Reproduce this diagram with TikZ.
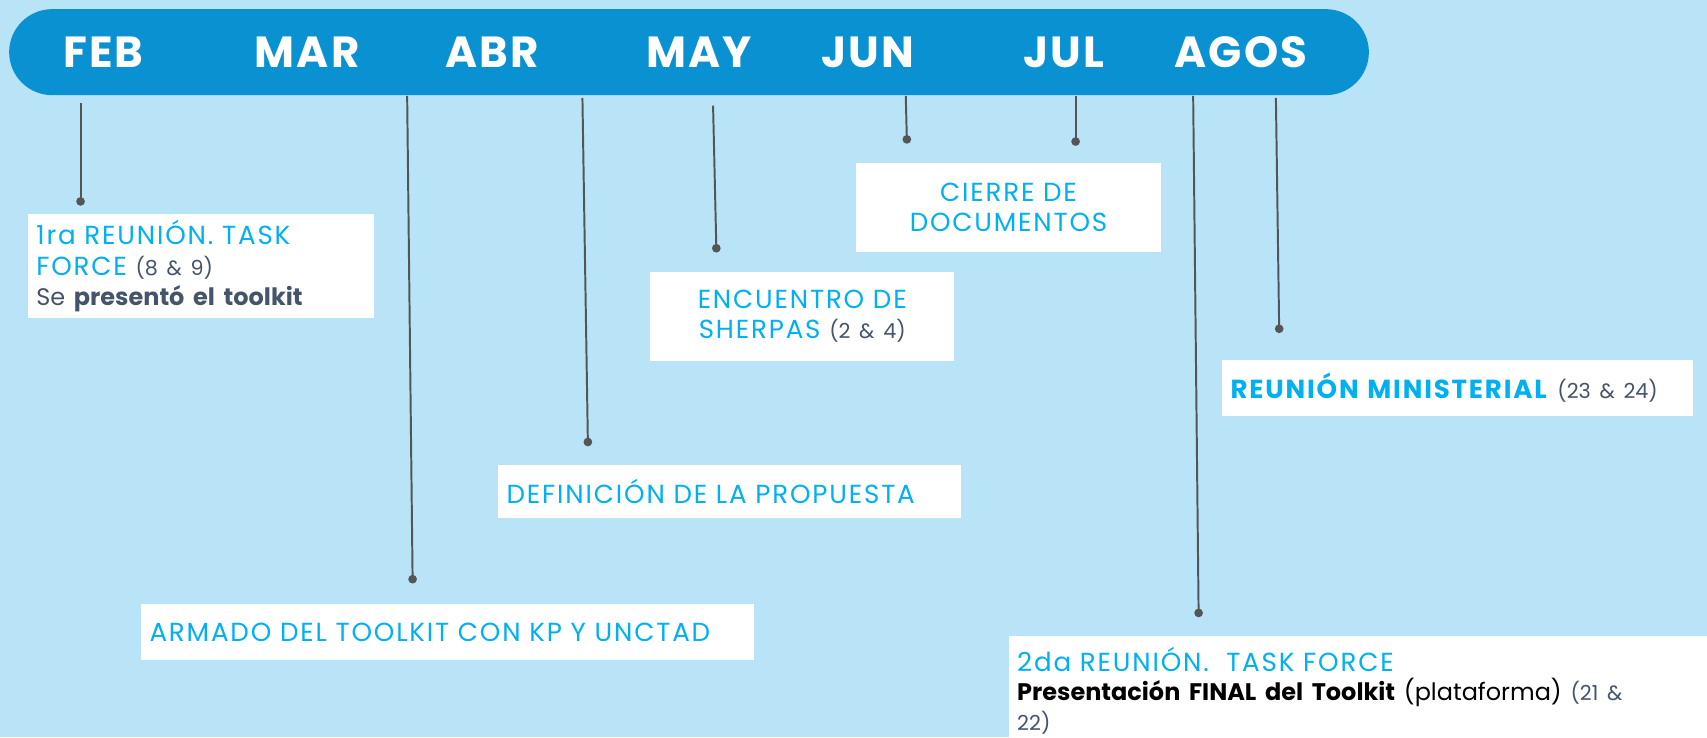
\documentclass[tikz,border=0pt]{standalone}
\usepackage{fontspec}
\setmainfont{Poppins}
\usepackage{tikz}
\usetikzlibrary{backgrounds,calc}
\definecolor{fondo}{HTML}{B9E4F7}
\definecolor{barraazul}{HTML}{0A91D2}
\definecolor{celeste}{HTML}{00B0F0}
\definecolor{gris}{HTML}{555555}
\definecolor{pizarra}{HTML}{44546A}
\tikzset{
  mes/.style={text=white, font=\fontsize{20}{22}\selectfont\bfseries\addfontfeature{LetterSpace=5}},
  hito/.style={fill=white, anchor=north west, inner xsep=4pt, inner ysep=3pt,
    font=\fontsize{12}{14}\selectfont\addfontfeature{LetterSpace=7}, text=celeste},
  guia/.style={draw=gris, line width=0.9pt}
}
\newcommand{\dias}[1]{{\color{pizarra}\fontsize{9.5}{14}\selectfont\addfontfeature{LetterSpace=0}#1}}
\newcommand{\texto}[1]{{\fontsize{11}{14}\selectfont\addfontfeature{LetterSpace=0}#1}}
\begin{document}
\begin{tikzpicture}[x=0.5pt,y=-0.5pt]
\useasboundingbox (0,0) rectangle (1568,677);
\fill[fondo] (0,0) rectangle (1568,677);
\node[fill=barraazul, rounded corners=19.75pt, anchor=north west, minimum width=624.5pt,
  minimum height=39.5pt, inner sep=0pt] (barra) at (8,8) {};
\foreach \m/\x in {FEB/95,MAR/282,ABR/452,MAY/642,JUN/797,JUL/977,AGOS/1140}
  \node[mes] (\m) at (\x,48) {\m};

\node[hito, minimum width=159pt, minimum height=47pt, text width=151pt, align=left] (h1) at (25,196)
  {1ra REUNIÓN. TASK\\FORCE \dias{(8 \& 9)}\\\texto{\color{pizarra}Se \textbf{presentó el toolkit}}};
\node[hito, minimum width=281.5pt, minimum height=26pt, text width=273.5pt, align=left] (h2) at (129,554)
  {ARMADO DEL TOOLKIT CON KP Y UNCTAD};
\node[hito, minimum width=212.5pt, minimum height=24pt, text width=204.5pt, align=left] (h3) at (457,427)
  {DEFINICIÓN DE LA PROPUESTA};
\node[hito, minimum width=139.5pt, minimum height=41pt, text width=131.5pt, align=center] (h4) at (597,249)
  {ENCUENTRO DE\\SHERPAS \dias{(2 \& 4)}};
\node[hito, minimum width=140pt, minimum height=41pt, text width=132pt, align=center] (h5) at (786,149)
  {CIERRE DE\\DOCUMENTOS};
\node[hito, minimum width=321pt, text width=313pt, inner ysep=5pt, align=left,
  font=\fontsize{12}{13.5}\selectfont\addfontfeature{LetterSpace=7}] (h7) at (926,584)
  {2da REUNIÓN.\ \ TASK FORCE\\\texto{\color{black}\textbf{Presentación FINAL del Toolkit} (plataforma)} \dias{(21 \&}\\\dias{22)}};
\node[hito, minimum width=216.5pt, minimum height=26pt, text width=208.5pt, align=left] (h8) at (1122,330)
  {\textbf{REUNIÓN MINISTERIAL} \dias{(23 \& 24)}};

\foreach \i/\xa/\ya/\xb/\yb in {1/74/95/74/185, 2/374/88/379/532, 3/535/90/540/406, 4/655/97/658/228,
  5/832/88/833/128, 6/988/88/988/130, 7/1096/88/1101/563, 8/1172/90/1175/302}{
  \coordinate (t\i) at (\xa,\ya);
  \coordinate (p\i) at (\xb,\yb);
  \draw[guia] (t\i) -- (p\i);
  \fill[gris] (p\i) circle (2pt);
}
\end{tikzpicture}
\end{document}
